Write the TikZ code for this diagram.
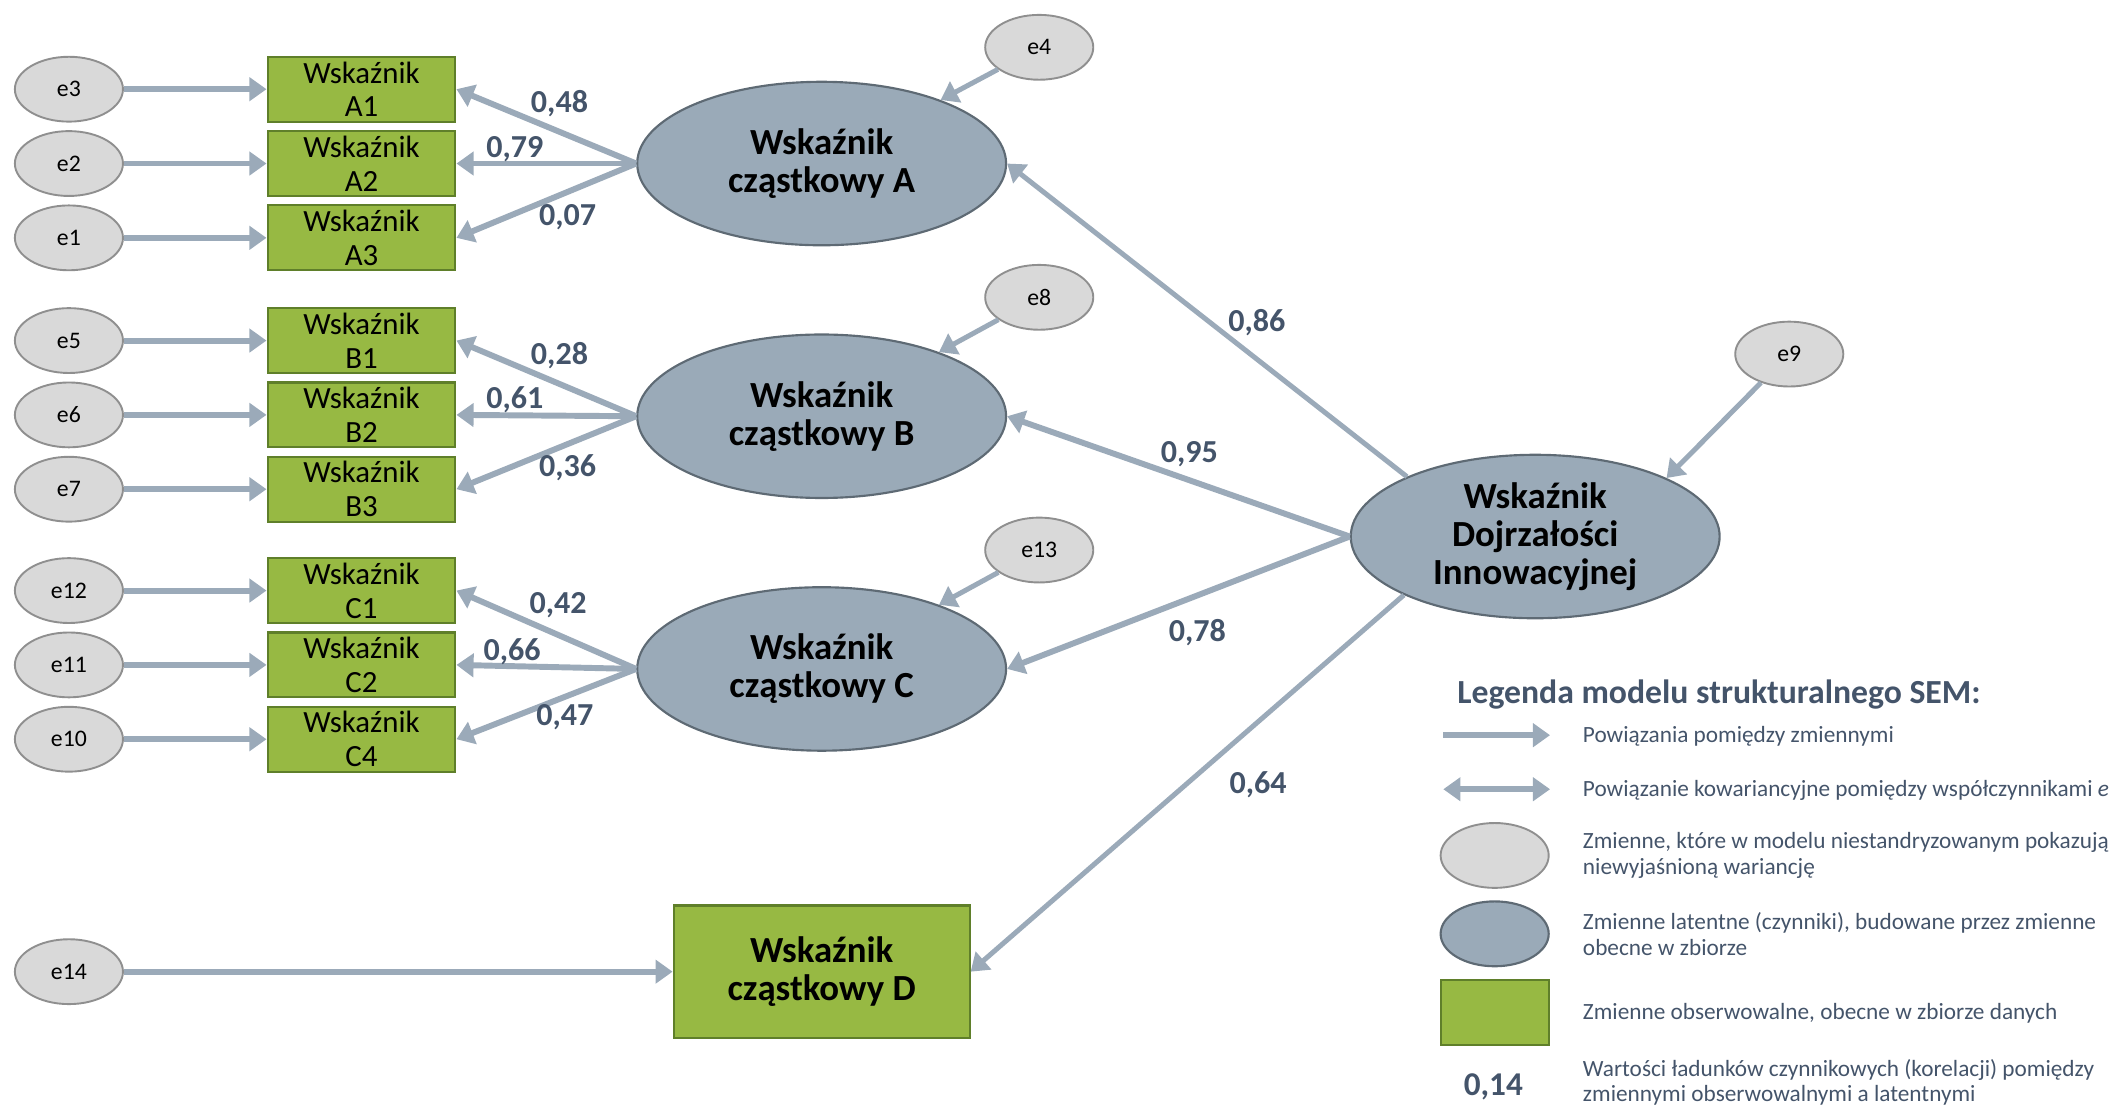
\documentclass[tikz,border=0pt]{standalone}
\usepackage{fontspec}
\setmainfont{Carlito}
\usetikzlibrary{shapes.geometric,arrows.meta}
\definecolor{arrowgray}{HTML}{9BAAB9}
\definecolor{latfill}{HTML}{9AAAB8}
\definecolor{latline}{HTML}{5E6A74}
\definecolor{errfill}{HTML}{D9D9D9}
\definecolor{errline}{HTML}{8F8F8F}
\definecolor{obsfill}{HTML}{97B943}
\definecolor{obsline}{HTML}{5F7F2A}
\definecolor{labelc}{HTML}{44546A}
\tikzset{semtip/.tip={Triangle[length=7.2pt,width=9.7pt]}}
\begin{document}
\begin{tikzpicture}[x=0.02cm,y=-0.02cm,
    errvar/.style={ellipse,draw=errline,fill=errfill,line width=0.8pt,minimum width=1.6cm,minimum height=0.96cm,inner sep=0pt,font=\fontsize{10}{12}\selectfont},
    obsvar/.style={rectangle,draw=obsline,fill=obsfill,line width=0.9pt,minimum width=2.78cm,minimum height=0.96cm,inner sep=0pt,align=center,font=\fontsize{13}{14.2}\selectfont},
    latvar/.style={ellipse,draw=latline,fill=latfill,line width=0.9pt,minimum width=5.46cm,minimum height=2.42cm,inner sep=0pt,align=center,font=\bfseries\fontsize{15.5}{16}\selectfont},
    link/.style={draw=arrowgray,line width=2.5pt,-semtip},
    thinlink/.style={link,line width=2.1pt},
    coef/.style={text=labelc,font=\bfseries\fontsize{13.5}{15}\selectfont},
    legtext/.style={anchor=west,align=left,inner sep=0pt,text=labelc,font=\fontsize{9.8}{10.8}\selectfont}]
    \useasboundingbox (0,0) rectangle (1568,819);

    % error terms on the left
    \node[errvar] (e3) at (51,66) {e3};
    \node[errvar] (e2) at (51,121) {e2};
    \node[errvar] (e1) at (51,176) {e1};
    \node[errvar] (e5) at (51,252) {e5};
    \node[errvar] (e6) at (51,307) {e6};
    \node[errvar] (e7) at (51,362) {e7};
    \node[errvar] (e12) at (51,437) {e12};
    \node[errvar] (e11) at (51,492) {e11};
    \node[errvar] (e10) at (51,547) {e10};
    \node[errvar] (e14) at (51,719) {e14};

    % observed indicators
    \node[obsvar] (A1) at (267.5,66) {Wskaźnik\\A1};
    \node[obsvar] (A2) at (267.5,121) {Wskaźnik\\A2};
    \node[obsvar] (A3) at (267.5,176) {Wskaźnik\\A3};
    \node[obsvar] (B1) at (267.5,252) {Wskaźnik\\B1};
    \node[obsvar] (B2) at (267.5,307) {Wskaźnik\\B2};
    \node[obsvar] (B3) at (267.5,362) {Wskaźnik\\B3};
    \node[obsvar] (C1) at (267.5,437) {Wskaźnik\\C1};
    \node[obsvar] (C2) at (267.5,492) {Wskaźnik\\C2};
    \node[obsvar] (C4) at (267.5,547) {Wskaźnik\\C4};

    % latent factors
    \node[latvar] (lA) at (608,121) {Wskaźnik\\cząstkowy A};
    \node[latvar] (lB) at (608,308) {Wskaźnik\\cząstkowy B};
    \node[latvar] (lC) at (608,495) {Wskaźnik\\cząstkowy C};
    \node[obsvar,minimum width=4.38cm,minimum height=1.96cm,font=\bfseries\fontsize{15.5}{16}\selectfont] (lD) at (608,719) {Wskaźnik\\cząstkowy D};
    \node[latvar] (dim) at (1136,397) {Wskaźnik\\Dojrzałości\\Innowacyjnej};

    \node[errvar] (e4) at (769,35) {e4};
    \node[errvar] (e8) at (769,220) {e8};
    \node[errvar] (e13) at (769,407) {e13};
    \node[errvar] (e9) at (1324,262) {e9};

    % error arrows
    \draw[link] (e3) -- (A1);
    \draw[link] (e2) -- (A2);
    \draw[link] (e1) -- (A3);
    \draw[link] (e5) -- (B1);
    \draw[link] (e6) -- (B2);
    \draw[link] (e7) -- (B3);
    \draw[link] (e12) -- (C1);
    \draw[link] (e11) -- (C2);
    \draw[link] (e10) -- (C4);
    \draw[link] (e14) -- (lD);
    \draw[thinlink] (e4) -- (lA);
    \draw[thinlink] (e8) -- (lB);
    \draw[thinlink] (e13) -- (lC);
    \draw[thinlink] (e9) -- (dim.24);

    % loadings
    \draw[link] (lA.west) -- (A1.east);
    \draw[link] (lA.west) -- (A2.east);
    \draw[link] (lA.west) -- (A3.east);
    \draw[link] (lB.west) -- (B1.east);
    \draw[link] (lB.west) -- (B2.east);
    \draw[link] (lB.west) -- (B3.east);
    \draw[link] (lC.west) -- (C1.east);
    \draw[link] (lC.west) -- (C2.east);
    \draw[link] (lC.west) -- (C4.east);
    \draw[thinlink] (dim.155) -- (lA.east);
    \draw[link] (dim.west) -- (lB.east);
    \draw[link] (dim.west) -- (lC.east);
    \draw[thinlink] (dim.204) -- (lD.east);

    \node[coef] (c48) at (414,77) {0,48};
    \node[coef] (c79) at (381,110) {0,79};
    \node[coef] (c07) at (420,161) {0,07};
    \node[coef] (c28) at (414,263) {0,28};
    \node[coef] (c61) at (381,296) {0,61};
    \node[coef] (c36) at (420,346) {0,36};
    \node[coef] (c42) at (413,448) {0,42};
    \node[coef] (c66) at (379,482) {0,66};
    \node[coef] (c47) at (418,531) {0,47};
    \node[coef] (c86) at (930,239) {0,86};
    \node[coef] (c95) at (880,336) {0,95};
    \node[coef] (c78) at (886,468) {0,78};
    \node[coef] (c64) at (931,581) {0,64};

    % legend
    \node[anchor=west,inner sep=0pt,text=labelc,font=\bfseries\fontsize{14.2}{16}\selectfont] (legtitle) at (1078,514) {Legenda modelu strukturalnego SEM:};
    \coordinate (l1a) at (1068,544);
    \coordinate (l1b) at (1147,544);
    \coordinate (l2a) at (1068,584);
    \coordinate (l2b) at (1147,584);
    \draw[link] (l1a) -- (l1b);
    \draw[link,semtip-semtip] (l2a) -- (l2b);
    \node[errvar] (lgerr) at (1106,633) {};
    \node[latvar,minimum width=1.6cm,minimum height=0.96cm] (lglat) at (1106,691) {};
    \node[obsvar,minimum width=1.6cm,minimum height=0.96cm] (lgobs) at (1106,749) {};
    \node[coef,font=\bfseries\fontsize{14}{16}\selectfont] (lgcoef) at (1105,804) {0,14};
    \node[legtext] (t1) at (1171,545) {Powiązania pomiędzy zmiennymi};
    \node[legtext] (t2) at (1171,585) {Powiązanie kowariancyjne pomiędzy współczynnikami \textit{e}};
    \node[legtext] (t3) at (1171,633) {Zmienne, które w modelu niestandryzowanym pokazują\\niewyjaśnioną wariancję};
    \node[legtext] (t4) at (1171,691) {Zmienne latentne (czynniki), budowane przez zmienne\\obecne w zbiorze};
    \node[legtext] (t5) at (1171,750) {Zmienne obserwowalne, obecne w zbiorze danych};
    \node[legtext] (t6) at (1171,801) {Wartości ładunków czynnikowych (korelacji) pomiędzy\\zmiennymi obserwowalnymi a latentnymi};
\end{tikzpicture}
\end{document}
